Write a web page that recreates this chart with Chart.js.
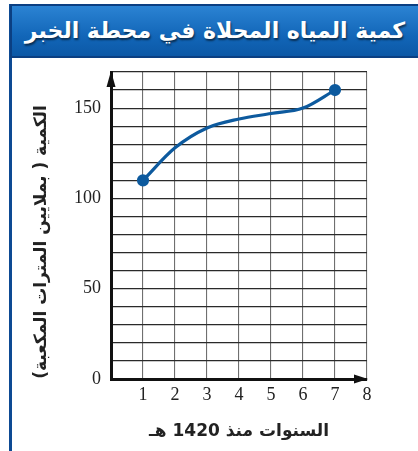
<!DOCTYPE html>
<html lang="ar">
<head>
<meta charset="utf-8">
<title>كمية المياه المحلاة في محطة الخبر</title>
<script src="https://cdn.jsdelivr.net/npm/chart.js@4.4.1/dist/chart.umd.min.js"></script>
<style>
  html, body { margin: 0; padding: 0; background: #fff; }
  #wrap { position: relative; width: 418px; height: 451px; overflow: hidden; }
  #chart-box { position: absolute; left: 0; top: 0; width: 418px; height: 451px; }
  #title-bar {
    position: absolute; left: 10px; top: 4px; width: 408px; height: 54px;
    box-sizing: border-box;
    background: linear-gradient(#2b83d3, #1266b8 60%, #0c58a6);
    border: 2px solid #0b3f82; border-right: none;
    color: #fff; font-family: "DejaVu Sans", sans-serif; font-weight: bold;
    font-size: 22px; line-height: 50px; text-align: center; direction: rtl;
    white-space: nowrap; overflow: hidden;
    text-shadow: 1px 2px 2px rgba(0,0,0,0.55);
    z-index: 2;
  }
  #side-line {
    position: absolute; left: 9px; top: 4px; width: 3px; height: 447px;
    background: #0d4a93; z-index: 1;
  }
</style>
</head>
<body>
<div id="wrap">
  <div id="side-line"></div>
  <div id="title-bar">كمية المياه المحلاة في محطة الخبر</div>
  <div id="chart-box"><canvas id="waterChart"></canvas></div>
</div>
<script>
  // بيانات الرسم
  const years = [1, 2, 3, 4, 5, 6, 7];
  const amounts = [110, 128, 139, 144, 147, 150, 160];
  const xTickLabels = [1, 2, 3, 4, 5, 6, 7, 8];
  const yTickLabels = [0, 50, 100, 150];
  const yTitle = 'الكمية ( بملايين المترات المكعبة)';
  const xTitle = 'السنوات منذ 1420 هـ';

  // أسهم المحاور وعنوان المحور الرأسي
  const axisExtras = {
    id: 'axisExtras',
    afterDraw(chart) {
      const c = chart.ctx;
      const x = chart.scales.x, y = chart.scales.y;
      const x0 = x.getPixelForValue(0), x8 = x.getPixelForValue(8);
      const y0 = y.getPixelForValue(0), yTop = y.getPixelForValue(170);
      c.save();
      c.fillStyle = '#111';
      // سهم المحور الرأسي
      c.beginPath();
      c.moveTo(x0, yTop - 1);
      c.lineTo(x0 - 4.5, yTop + 15);
      c.lineTo(x0 + 4.5, yTop + 15);
      c.closePath();
      c.fill();
      // سهم المحور الأفقي
      c.beginPath();
      c.moveTo(x8 + 1, y0);
      c.lineTo(x8 - 13, y0 - 4.5);
      c.lineTo(x8 - 13, y0 + 4.5);
      c.closePath();
      c.fill();
      // عنوان المحور الرأسي
      c.translate(42, 242);
      c.rotate(-Math.PI / 2);
      c.font = 'bold 17px "DejaVu Sans"';
      c.textAlign = 'center';
      c.textBaseline = 'middle';
      c.fillStyle = '#222';
      c.fillText(yTitle, 0, 0);
      c.restore();
    }
  };

  const ctx = document.getElementById('waterChart').getContext('2d');
  const waterChart = new Chart(ctx, {
    type: 'line',
    data: {
      datasets: [{
        data: years.map((yr, i) => ({ x: yr, y: amounts[i] })),
        borderColor: '#0d5a9e',
        backgroundColor: '#0d5a9e',
        borderWidth: 3.2,
        cubicInterpolationMode: 'monotone',
        pointRadius: c => (c.dataIndex === 0 || c.dataIndex === years.length - 1) ? 4.5 : 0,
        pointHoverRadius: 0,
        fill: false
      }]
    },
    options: {
      responsive: true,
      maintainAspectRatio: false,
      animation: false,
      layout: { padding: { left: 0, right: 51, top: 72, bottom: 0 } },
      plugins: {
        legend: { display: false },
        tooltip: { enabled: false }
      },
      scales: {
        x: {
          type: 'linear',
          min: 0, max: 8,
          afterFit: s => { s.height = 72; },
          ticks: {
            stepSize: 1,
            padding: 5,
            color: '#222',
            font: { family: '"Liberation Serif", serif', size: 18 },
            callback: v => xTickLabels.includes(v) ? v : ''
          },
          grid: { color: '#6f6f6f', lineWidth: 1.1, drawTicks: false },
          border: { color: '#111', width: 3 },
          title: {
            display: true,
            text: xTitle,
            color: '#222',
            font: { family: '"DejaVu Sans"', size: 17, weight: 'bold' },
            padding: { top: 4, bottom: 9 }
          }
        },
        y: {
          min: 0, max: 170,
          afterFit: s => { s.width = 111; },
          ticks: {
            stepSize: 10,
            maxTicksLimit: 30,
            autoSkip: false,
            padding: 10,
            color: '#222',
            font: { family: '"Liberation Serif", serif', size: 18 },
            callback: v => yTickLabels.includes(v) ? v : ''
          },
          grid: { color: '#2a2a2a', lineWidth: 1.2, drawTicks: false },
          border: { color: '#111', width: 3 }
        }
      }
    },
    plugins: [axisExtras]
  });
</script>
</body>
</html>
